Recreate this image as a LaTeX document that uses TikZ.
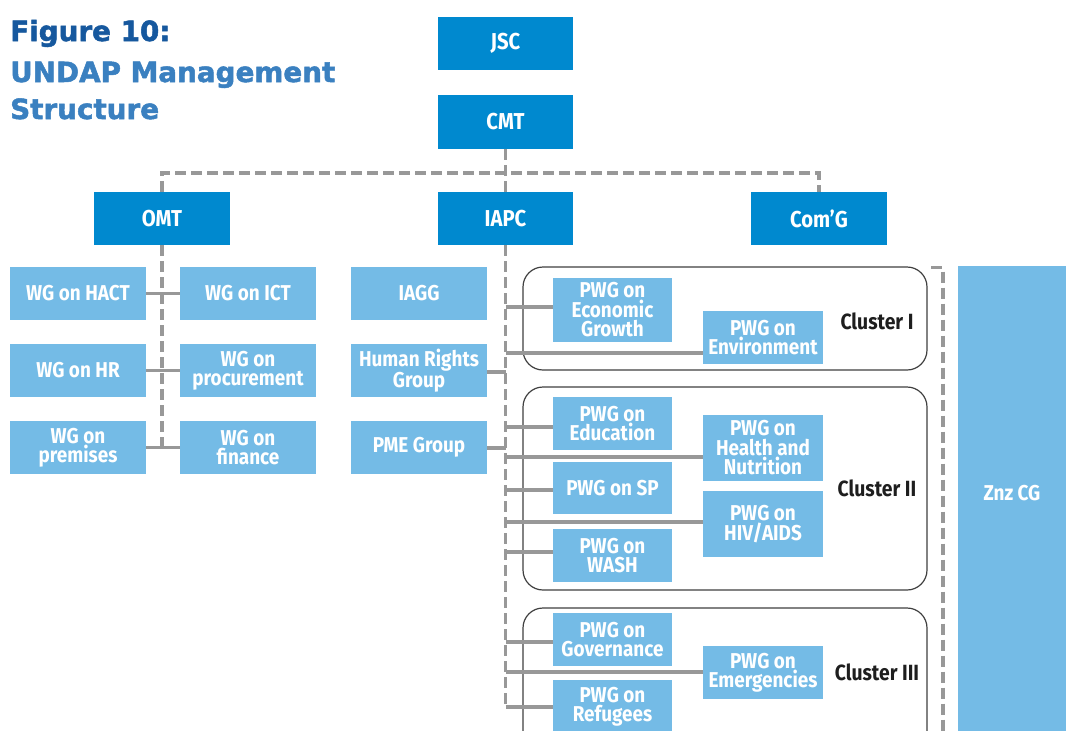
\documentclass[tikz,border=0pt]{standalone}
\usepackage{fontspec}
\setmainfont{Fira Sans}[FakeStretch=0.88]
\newfontfamily\titlefont{DejaVu Sans}[BoldFeatures={FakeBold=1.8}]
\definecolor{dblue}{RGB}{0,137,207}
\definecolor{lblue}{RGB}{116,187,230}
\definecolor{lgrey}{RGB}{152,152,152}
\definecolor{tdark}{RGB}{22,88,158}
\definecolor{tlight}{RGB}{58,128,192}
\definecolor{cdark}{RGB}{30,30,30}
\tikzset{
  box/.style={inner sep=0pt, align=center, text=white, anchor=center,
    font=\fontsize{21.5}{19.5}\selectfont\bfseries},
  dbox/.style={box, fill=dblue, minimum width=135pt, minimum height=53pt,
    font=\fontsize{23}{20}\selectfont\bfseries},
  wbox/.style={box, fill=lblue, minimum width=136pt, minimum height=53pt},
  pbox/.style={box, fill=lblue, minimum width=119pt, minimum height=53pt},
  dashline/.style={draw=lgrey, line width=3.1pt, dash pattern=on 11pt off 5pt},
  link/.style={draw=lgrey, line width=3.1pt},
  cluster/.style={draw=cdark!85, line width=1.2pt, rounded corners=20pt},
  clabel/.style={inner sep=0pt, anchor=center, text=cdark,
    font=\fontsize{22}{20}\selectfont\bfseries},
  ttl/.style={inner sep=0pt, anchor=base west, font=\titlefont\fontsize{27.8}{30}\selectfont\bfseries}
}
\begin{document}
\begin{tikzpicture}[x=1pt,y=-1pt]
\useasboundingbox (0,0) rectangle (1066,731);
\fill[white] (0,0) rectangle (1066,731);

% title
\node[ttl, text=tdark] (t1) at (10,41) {Figure 10:};
\node[ttl, text=tlight] (t2) at (10,82) {UNDAP Management};
\node[ttl, text=tlight] (t3) at (10,119) {Structure};

% clusters
\draw[cluster] (523,267) rectangle (927,370);
\draw[cluster] (523,387) rectangle (927,590);
\draw[cluster] (523,608) rectangle (927,760);
\node[clabel] (c1) at (877,321) {Cluster I};
\node[clabel] (c2) at (877,488) {Cluster II};
\node[clabel] (c3) at (877,672) {Cluster III};

% top level
\node[dbox] (jsc) at (505.5,43) {JSC};
\node[dbox, minimum height=54pt] (cmt) at (505.5,122) {CMT};
\node[dbox, minimum width=136pt] (omt) at (162,218.5) {OMT};
\node[dbox] (iapc) at (505.5,218.5) {IAPC};
\node[dbox, minimum width=136pt] (comg) at (819,218.5) {Com’G};

% OMT working groups
\node[wbox] (hact) at (78,293.5) {WG on HACT};
\node[wbox] (ict) at (248,293.5) {WG on ICT};
\node[wbox] (hr) at (78,370.5) {WG on HR};
\node[wbox] (proc) at (248,370.5) {WG on\\procurement};
\node[wbox] (prem) at (78,447.5) {WG on\\premises};
\node[wbox] (fin) at (248,447.5) {WG on\\finance};

% IAPC groups
\node[wbox] (iagg) at (419,293.5) {IAGG};
\node[wbox] (hrg) at (419,370.5) {Human Rights\\Group};
\node[wbox] (pme) at (419,447.5) {PME Group};

% PWGs
\node[pbox, minimum height=64pt] (econ) at (612.5,310) {PWG on\\Economic\\Growth};
\node[pbox, minimum width=120pt] (env) at (763,337.5) {PWG on\\Environment};
\node[pbox] (edu) at (612.5,423.5) {PWG on\\Education};
\node[pbox, minimum width=120pt, minimum height=66pt] (health) at (763,448) {PWG on\\Health and\\Nutrition};
\node[pbox, minimum height=52pt] (sp) at (612.5,488) {PWG on SP};
\node[pbox, minimum width=120pt, minimum height=66pt] (hiv) at (763,524) {PWG on\\HIV/AIDS};
\node[pbox] (wash) at (612.5,555.5) {PWG on\\WASH};
\node[pbox] (gov) at (612.5,639.5) {PWG on\\Governance};
\node[pbox, minimum width=120pt] (emer) at (763,672.5) {PWG on\\Emergencies};
\node[pbox] (refu) at (612.5,706.5) {PWG on\\Refugees};

% Znz CG
\fill[lblue] (958,266) rectangle (1070,740);
\node[box] (znz) at (1012,493) {Znz CG};

% top dashed connectors
\coordinate (hub) at (505.5,173);
\draw[dashline] (cmt.south) -- (iapc.north);
\draw[dashline] (omt.north) |- (hub) -| (comg.north);

% OMT spine
\coordinate (oend) at (162,447.5);
\draw[dashline] (omt.south) -- (oend);
\draw[link] (hact.east) -- (ict.west);
\draw[link] (hr.east) -- (proc.west);
\draw[link] (prem.east) -- (fin.west);

% IAPC spine
\coordinate (iend) at (505.5,707);
\draw[dashline] (iapc.south) -- (iend);
\coordinate (sHrg) at (505.5,372);
\coordinate (sPme) at (505.5,448);
\coordinate (sEcon) at (505.5,307);
\coordinate (sEnv) at (505.5,353);
\coordinate (sEdu) at (505.5,427);
\coordinate (sHea) at (505.5,457);
\coordinate (sSp) at (505.5,490);
\coordinate (sHiv) at (505.5,522);
\coordinate (sWash) at (505.5,552);
\coordinate (sGov) at (505.5,642);
\coordinate (sEmer) at (505.5,672);
\draw[link] (hrg.east |- sHrg) -- (sHrg);
\draw[link] (pme.east |- sPme) -- (sPme);
\draw[link] (sEcon) -- (econ.west |- sEcon);
\draw[link] (sEnv) -- (env.west |- sEnv);
\draw[link] (sEdu) -- (edu.west |- sEdu);
\draw[link] (sHea) -- (health.west |- sHea);
\draw[link] (sSp) -- (sp.west |- sSp);
\draw[link] (sHiv) -- (hiv.west |- sHiv);
\draw[link] (sWash) -- (wash.west |- sWash);
\draw[link] (sGov) -- (gov.west |- sGov);
\draw[link] (sEmer) -- (emer.west |- sEmer);
\draw[link] (iend) -- (refu.west |- iend);

% Znz bracket
\coordinate (b0) at (931,267.5);
\coordinate (b1) at (943,267.5);
\coordinate (b2) at (943,745);
\draw[dashline] (b0) -- (b1) -- (b2);
\end{tikzpicture}
\end{document}
